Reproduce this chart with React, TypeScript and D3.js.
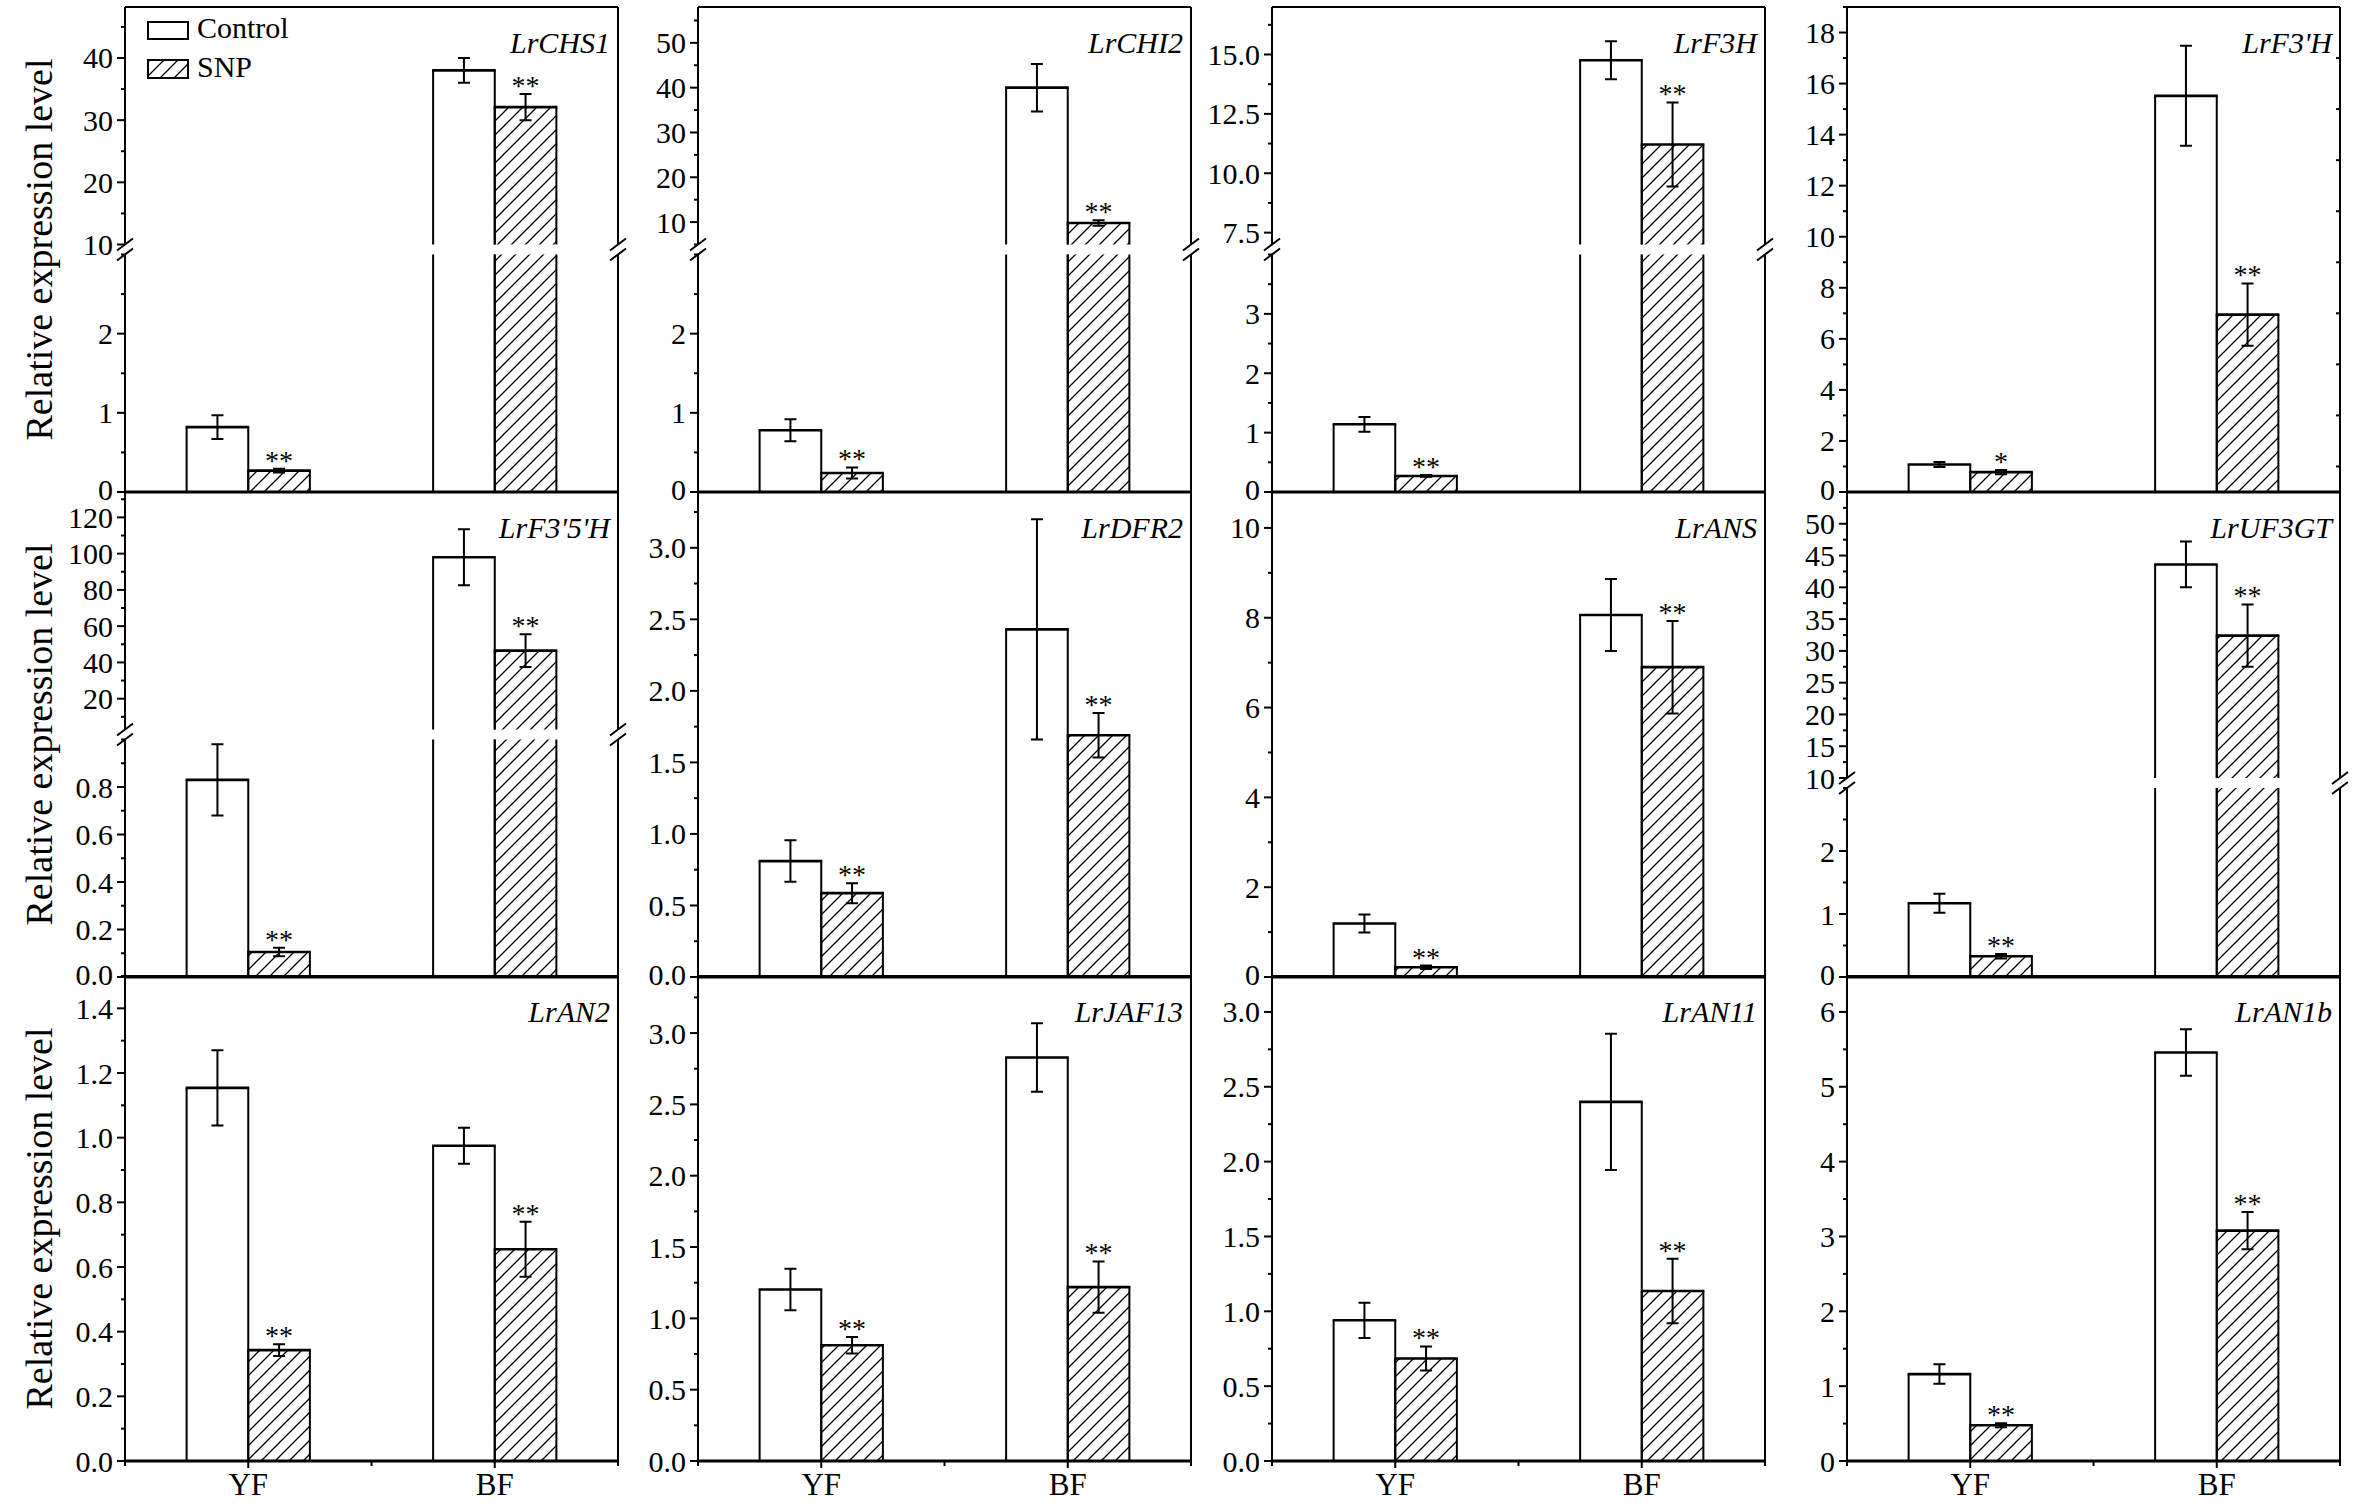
import React from 'react';
import * as d3 from 'd3';

// gene panels, left to right, top to bottom
const genes = ['LrCHS1', 'LrCHI2', 'LrF3H', "LrF3'H", "LrF3'5'H", 'LrDFR2', 'LrANS', 'LrUF3GT', 'LrAN2', 'LrJAF13', 'LrAN11', 'LrAN1b'];
const groups = ['YF', 'BF'];
const series = ['Control', 'SNP'];

// [YF, BF] per gene
const controlMean = [[0.82, 38.0], [0.78, 40.0], [1.14, 14.76], [1.08, 15.52], [0.83, 98], [0.81, 2.43], [1.19, 8.06], [1.17, 43.6], [1.154, 0.975], [1.202, 2.829], [0.94, 2.399], [1.161, 5.458]];
const controlErr = [[0.15, 2.0], [0.14, 5.3], [0.125, 0.8], [0.1, 1.96], [0.15, 15.5], [0.145, 0.77], [0.2, 0.8], [0.15, 3.6], [0.116, 0.056], [0.145, 0.24], [0.118, 0.455], [0.13, 0.31]];
const snpMean = [[0.27, 32.1], [0.24, 9.8], [0.27, 11.21], [0.78, 6.95], [0.105, 46.5], [0.586, 1.69], [0.216, 6.9], [0.33, 32.4], [0.343, 0.655], [0.811, 1.219], [0.685, 1.136], [0.477, 3.078]];
const snpErr = [[0.025, 2.1], [0.07, 0.6], [0.015, 1.77], [0.08, 1.22], [0.018, 9], [0.07, 0.155], [0.04, 1.03], [0.035, 4.9], [0.018, 0.085], [0.058, 0.18], [0.08, 0.215], [0.026, 0.25]];
const snpMark = [['**', '**'], ['**', '**'], ['**', '**'], ['*', '**'], ['**', '**'], ['**', '**'], ['**', '**'], ['**', '**'], ['**', '**'], ['**', '**'], ['**', '**'], ['**', '**']];

// y axes: lower (or only) segment
const lowerDomain = [[0, 3], [0, 3], [0, 4], [0, 19], [0, 1.0], [0, 3.39], [0, 10.8], [0, 3], [0, 1.5], [0, 3.4], [0, 3.24], [0, 6.48]];
const lowerTicks = [
    [0, 1, 2], [0, 1, 2], [0, 1, 2, 3], [0, 2, 4, 6, 8, 10, 12, 14, 16, 18],
    [0, 0.2, 0.4, 0.6, 0.8], [0, 0.5, 1, 1.5, 2, 2.5, 3], [0, 2, 4, 6, 8, 10], [0, 1, 2],
    [0, 0.2, 0.4, 0.6, 0.8, 1, 1.2, 1.4], [0, 0.5, 1, 1.5, 2, 2.5, 3], [0, 0.5, 1, 1.5, 2, 2.5, 3], [0, 1, 2, 3, 4, 5, 6],
];
const lowerMinor = [0.5, 0.5, 0.5, 1, 0.1, 0.25, 1, 0.5, 0.1, 0.25, 0.25, 0.5];
const lowerDecimals = [0, 0, 0, 0, 1, 1, 0, 0, 1, 1, 1, 0];

// upper segment of the broken axes (null = no break)
const upperDomain: ([number, number] | null)[] = [[10, 48.2], [5, 58], [7, 17], null, [3, 134], null, null, [10, 55], null, null, null, null];
const upperTicks = [[10, 20, 30, 40], [10, 20, 30, 40, 50], [7.5, 10, 12.5, 15], [], [20, 40, 60, 80, 100, 120], [], [], [10, 15, 20, 25, 30, 35, 40, 45, 50], [], [], [], []];
const upperMinor = [5, 5, 1.25, 0, 10, 0, 0, 2.5, 0, 0, 0, 0];
const upperDecimals = [0, 0, 1, 0, 0, 0, 0, 0, 0, 0, 0, 0];

const yLabel = 'Relative expression level';

// layout
const W = 2362;
const H = 1512;
const colX = [125, 698, 1272, 1847];
const rowY = [7, 492, 976];
const panelW = 493;
const panelH = 485;
const breakFrac = [0.5, 0.5, 0.5, 0, 0.5, 0, 0, 0.4, 0, 0, 0, 0];
const breakGap = 10;
const font = '"Liberation Serif", "Times New Roman", serif';

const minorValues = (d: number[], step: number, majors: number[]) => {
    if (!step) return [];
    const out: number[] = [];
    for (let v = Math.ceil(d[0] / step - 1e-9) * step; v <= d[1] + 1e-9; v += step) {
        if (!majors.some((m) => Math.abs(m - v) < 1e-6)) out.push(v);
    }
    return out;
};

const Panel: React.FC<{ i: number }> = ({ i }) => {
    const col = i % 4;
    const row = Math.floor(i / 4);
    const x0 = colX[col];
    const x1 = x0 + panelW;
    const y0 = rowY[row];
    const y1 = y0 + panelH;
    const x = d3.scaleLinear().domain([0, 4]).range([x0, x1]);

    const broken = upperDomain[i] !== null;
    const breakY = y1 - breakFrac[i] * panelH;
    const lower = d3.scaleLinear().domain(lowerDomain[i]).range([y1, broken ? breakY + breakGap / 2 : y0]);
    const upper = broken ? d3.scaleLinear().domain(upperDomain[i]!).range([breakY - breakGap / 2, y0]) : null;

    const yOf = (v: number) => (upper && v > lowerDomain[i][1] ? upper(v) : lower(v));

    const segs: { scale: d3.ScaleLinear<number, number>; ticks: number[]; minor: number; dec: number }[] = [
        { scale: lower, ticks: lowerTicks[i], minor: lowerMinor[i], dec: lowerDecimals[i] },
    ];
    if (upper) segs.push({ scale: upper, ticks: upperTicks[i], minor: upperMinor[i], dec: upperDecimals[i] });

    const bars: React.ReactNode[] = [];
    const errs: React.ReactNode[] = [];
    groups.forEach((g, gi) => {
        const center = 1 + gi * 2;
        [0, 1].forEach((s) => {
            const v = s === 0 ? controlMean[i][gi] : snpMean[i][gi];
            const e = s === 0 ? controlErr[i][gi] : snpErr[i][gi];
            const xl = x(center - 0.5 + s * 0.5);
            const xr = x(center + s * 0.5);
            const fill = s === 0 ? '#fff' : 'url(#hatch)';
            const pieces: { yb: number; yt: number; top: boolean }[] = [];
            if (upper && v > lowerDomain[i][1]) {
                pieces.push({ yb: lower(0), yt: lower(lowerDomain[i][1]), top: false });
                if (v > upperDomain[i]![0]) pieces.push({ yb: upper(upperDomain[i]![0]), yt: upper(v), top: true });
            } else {
                pieces.push({ yb: lower(0), yt: lower(v), top: true });
            }
            pieces.forEach((p, pi) => {
                bars.push(
                    <g key={`b${gi}-${s}-${pi}`}>
                        <rect x={xl} y={p.yt} width={xr - xl} height={p.yb - p.yt} fill={fill} />
                        <path d={`M${xl},${p.yb}V${p.yt}M${xr},${p.yb}V${p.yt}`} fill="none" stroke="#000" strokeWidth={2} />
                        {p.top && <line x1={xl - 1} x2={xr + 1} y1={p.yt} y2={p.yt} stroke="#000" strokeWidth={2.6} />}
                    </g>,
                );
            });
            const cx = (xl + xr) / 2;
            const yt = yOf(v + e);
            const yb = yOf(v - e);
            errs.push(
                <path
                    key={`e${gi}-${s}`}
                    d={`M${cx},${yt}V${yb}M${cx - 6},${yt}H${cx + 6}M${cx - 6},${yb}H${cx + 6}`}
                    stroke="#000"
                    strokeWidth={2}
                    fill="none"
                />,
            );
            if (s === 1) {
                errs.push(
                    <text key={`m${gi}`} x={cx} y={yt + 1} textAnchor="middle" fontSize={28} fontFamily={font}>
                        {snpMark[i][gi]}
                    </text>,
                );
            }
        });
    });

    const sideLine = (xx: number) =>
        broken ? (
            <g>
                <line x1={xx} x2={xx} y1={y1} y2={breakY + breakGap / 2} stroke="#000" strokeWidth={2} />
                <line x1={xx} x2={xx} y1={breakY - breakGap / 2} y2={y0} stroke="#000" strokeWidth={2} />
                <path
                    d={`M${xx - 8},${breakY + breakGap / 2 + 6}L${xx + 8},${breakY + breakGap / 2 - 6}M${xx - 8},${breakY - breakGap / 2 + 6}L${xx + 8},${breakY - breakGap / 2 - 6}`}
                    stroke="#000"
                    strokeWidth={2}
                />
            </g>
        ) : (
            <line x1={xx} x2={xx} y1={y1} y2={y0} stroke="#000" strokeWidth={2} />
        );

    return (
        <g>
            {bars}
            {errs}
            {/* frame */}
            <line x1={x0} x2={x1} y1={y0} y2={y0} stroke="#000" strokeWidth={2} />
            {sideLine(x0)}
            {sideLine(x1)}
            <line x1={x0 - 1} x2={x1 + 1} y1={y1} y2={y1} stroke="#000" strokeWidth={3} />
            {/* y ticks */}
            {segs.map((sg, si) => (
                <g key={`s${si}`}>
                    {sg.ticks.map((t) => (
                        <g key={`t${t}`}>
                            <line x1={x0 - 8} x2={x0} y1={sg.scale(t)} y2={sg.scale(t)} stroke="#000" strokeWidth={2} />
                            <text
                                x={x0 - 12}
                                y={sg.scale(t) - (t === 0 && row < 2 ? 3 : 0)}
                                textAnchor="end"
                                dominantBaseline="central"
                                fontSize={30}
                                fontFamily={font}
                            >
                                {d3.format(`.${sg.dec}f`)(t)}
                            </text>
                        </g>
                    ))}
                    {minorValues(sg.scale.domain(), sg.minor, sg.ticks).map((t) => (
                        <g key={`n${t}`}>
                            <line x1={x0 - 4} x2={x0} y1={sg.scale(t)} y2={sg.scale(t)} stroke="#000" strokeWidth={2} />
                            {i === 3 && <line x1={x1 - 4} x2={x1} y1={sg.scale(t)} y2={sg.scale(t)} stroke="#000" strokeWidth={2} />}
                        </g>
                    ))}
                </g>
            ))}
            {/* x ticks on the bottom row */}
            {row === 2 &&
                [0, 1, 2, 3, 4].map((t) => (
                    <line key={`x${t}`} x1={x(t)} x2={x(t)} y1={y1} y2={y1 + (t % 2 ? 7 : 5)} stroke="#000" strokeWidth={2} />
                ))}
            {row === 2 &&
                groups.map((g, gi) => (
                    <text key={g} x={x(1 + gi * 2)} y={y1 + 34} textAnchor="middle" fontSize={31} fontFamily={font}>
                        {g}
                    </text>
                ))}
            <text x={x1 - 8} y={y0 + 46} textAnchor="end" fontSize={30} fontStyle="italic" fontFamily={font}>
                {genes[i]}
            </text>
        </g>
    );
};

export default function App() {
    return (
        <svg width={W} height={H} style={{ position: 'absolute', left: 0, top: 0, background: '#fff' }}>
            <defs>
                <pattern id="hatch" patternUnits="userSpaceOnUse" width={14} height={14}>
                    <path d="M-1,1L1,-1M0,14L14,0M13,15L15,13" stroke="#000" strokeWidth={1.3} />
                </pattern>
            </defs>
            <rect width={W} height={H} fill="#fff" />
            {genes.map((g, i) => (
                <Panel key={g} i={i} />
            ))}
            {/* legend */}
            {series.map((s, si) => (
                <g key={s}>
                    <rect
                        x={148}
                        y={si === 0 ? 22 : 60}
                        width={40}
                        height={si === 0 ? 17 : 18}
                        fill={si === 0 ? '#fff' : 'url(#hatch)'}
                        stroke="#000"
                        strokeWidth={2}
                    />
                    <text x={197} y={si === 0 ? 38 : 77} fontSize={30} fontFamily={font}>
                        {s}
                    </text>
                </g>
            ))}
            {rowY.map((ry) => (
                <text
                    key={ry}
                    transform={`translate(52,${ry + panelH / 2}) rotate(-90)`}
                    textAnchor="middle"
                    fontSize={38}
                    fontFamily={font}
                >
                    {yLabel}
                </text>
            ))}
        </svg>
    );
}
